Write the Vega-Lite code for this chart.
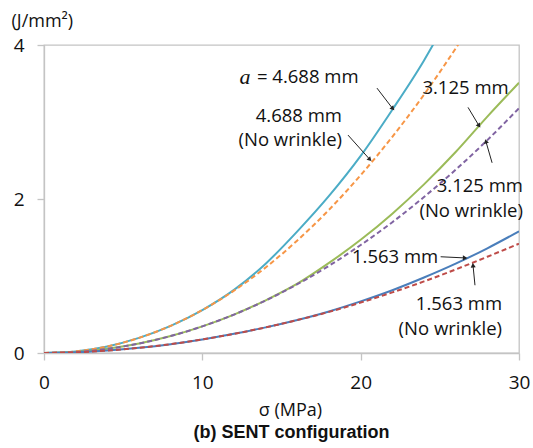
{
  "$schema": "https://vega.github.io/schema/vega-lite/v6.json",
  "autosize": "none",
  "width": 475,
  "height": 308,
  "padding": {"left": 44, "top": 45, "right": 14, "bottom": 95},
  "background": "white",
  "config": {
    "font": "Open Sans",
    "view": {"stroke": "#c4c4c4", "strokeWidth": 1.3},
    "axis": {
      "grid": false,
      "domainColor": "#c4c4c4",
      "domainWidth": 1.3,
      "tickColor": "#c4c4c4",
      "tickWidth": 1.3,
      "tickSize": 7,
      "labelFont": "Open Sans",
      "labelFontSize": 19,
      "labelColor": "#111111",
      "titleFont": "Open Sans",
      "titleFontSize": 18,
      "titleFontWeight": "normal",
      "titleColor": "#111111"
    }
  },
  "title": {
    "text": "(b) SENT configuration",
    "orient": "bottom",
    "anchor": "middle",
    "font": "Liberation Sans",
    "fontSize": 18,
    "fontWeight": "bold",
    "color": "#111111",
    "offset": 5,
    "dx": 10
  },
  "datasets": {
    "curves": [
      {"case": "a = 4.688 mm", "wrinkle": "yes", "sigma": 0, "energy": 0},
      {"case": "a = 4.688 mm", "wrinkle": "yes", "sigma": 2, "energy": 0.021},
      {"case": "a = 4.688 mm", "wrinkle": "yes", "sigma": 4, "energy": 0.085},
      {"case": "a = 4.688 mm", "wrinkle": "yes", "sigma": 6, "energy": 0.196},
      {"case": "a = 4.688 mm", "wrinkle": "yes", "sigma": 8, "energy": 0.353},
      {"case": "a = 4.688 mm", "wrinkle": "yes", "sigma": 10, "energy": 0.558},
      {"case": "a = 4.688 mm", "wrinkle": "yes", "sigma": 12, "energy": 0.82},
      {"case": "a = 4.688 mm", "wrinkle": "yes", "sigma": 14, "energy": 1.16},
      {"case": "a = 4.688 mm", "wrinkle": "yes", "sigma": 16, "energy": 1.58},
      {"case": "a = 4.688 mm", "wrinkle": "yes", "sigma": 18, "energy": 2.04},
      {"case": "a = 4.688 mm", "wrinkle": "yes", "sigma": 20, "energy": 2.56},
      {"case": "a = 4.688 mm", "wrinkle": "yes", "sigma": 22, "energy": 3.16},
      {"case": "a = 4.688 mm", "wrinkle": "yes", "sigma": 24, "energy": 3.8},
      {"case": "a = 4.688 mm", "wrinkle": "yes", "sigma": 25, "energy": 4.16},

      {"case": "4.688 mm (No wrinkle)", "wrinkle": "no", "sigma": 0, "energy": 0},
      {"case": "4.688 mm (No wrinkle)", "wrinkle": "no", "sigma": 2, "energy": 0.021},
      {"case": "4.688 mm (No wrinkle)", "wrinkle": "no", "sigma": 4, "energy": 0.085},
      {"case": "4.688 mm (No wrinkle)", "wrinkle": "no", "sigma": 6, "energy": 0.196},
      {"case": "4.688 mm (No wrinkle)", "wrinkle": "no", "sigma": 8, "energy": 0.353},
      {"case": "4.688 mm (No wrinkle)", "wrinkle": "no", "sigma": 10, "energy": 0.558},
      {"case": "4.688 mm (No wrinkle)", "wrinkle": "no", "sigma": 12, "energy": 0.81},
      {"case": "4.688 mm (No wrinkle)", "wrinkle": "no", "sigma": 14, "energy": 1.111},
      {"case": "4.688 mm (No wrinkle)", "wrinkle": "no", "sigma": 16, "energy": 1.462},
      {"case": "4.688 mm (No wrinkle)", "wrinkle": "no", "sigma": 18, "energy": 1.86},
      {"case": "4.688 mm (No wrinkle)", "wrinkle": "no", "sigma": 20, "energy": 2.31},
      {"case": "4.688 mm (No wrinkle)", "wrinkle": "no", "sigma": 22, "energy": 2.808},
      {"case": "4.688 mm (No wrinkle)", "wrinkle": "no", "sigma": 24, "energy": 3.355},
      {"case": "4.688 mm (No wrinkle)", "wrinkle": "no", "sigma": 26, "energy": 3.955},
      {"case": "4.688 mm (No wrinkle)", "wrinkle": "no", "sigma": 27, "energy": 4.272},

      {"case": "3.125 mm", "wrinkle": "yes", "sigma": 0, "energy": 0},
      {"case": "3.125 mm", "wrinkle": "yes", "sigma": 2, "energy": 0.013},
      {"case": "3.125 mm", "wrinkle": "yes", "sigma": 4, "energy": 0.054},
      {"case": "3.125 mm", "wrinkle": "yes", "sigma": 6, "energy": 0.123},
      {"case": "3.125 mm", "wrinkle": "yes", "sigma": 8, "energy": 0.22},
      {"case": "3.125 mm", "wrinkle": "yes", "sigma": 10, "energy": 0.346},
      {"case": "3.125 mm", "wrinkle": "yes", "sigma": 12, "energy": 0.499},
      {"case": "3.125 mm", "wrinkle": "yes", "sigma": 14, "energy": 0.684},
      {"case": "3.125 mm", "wrinkle": "yes", "sigma": 16, "energy": 0.9},
      {"case": "3.125 mm", "wrinkle": "yes", "sigma": 18, "energy": 1.17},
      {"case": "3.125 mm", "wrinkle": "yes", "sigma": 20, "energy": 1.47},
      {"case": "3.125 mm", "wrinkle": "yes", "sigma": 22, "energy": 1.81},
      {"case": "3.125 mm", "wrinkle": "yes", "sigma": 24, "energy": 2.19},
      {"case": "3.125 mm", "wrinkle": "yes", "sigma": 26, "energy": 2.61},
      {"case": "3.125 mm", "wrinkle": "yes", "sigma": 28, "energy": 3.07},
      {"case": "3.125 mm", "wrinkle": "yes", "sigma": 30, "energy": 3.51},

      {"case": "3.125 mm (No wrinkle)", "wrinkle": "no", "sigma": 0, "energy": 0},
      {"case": "3.125 mm (No wrinkle)", "wrinkle": "no", "sigma": 2, "energy": 0.013},
      {"case": "3.125 mm (No wrinkle)", "wrinkle": "no", "sigma": 4, "energy": 0.054},
      {"case": "3.125 mm (No wrinkle)", "wrinkle": "no", "sigma": 6, "energy": 0.123},
      {"case": "3.125 mm (No wrinkle)", "wrinkle": "no", "sigma": 8, "energy": 0.22},
      {"case": "3.125 mm (No wrinkle)", "wrinkle": "no", "sigma": 10, "energy": 0.346},
      {"case": "3.125 mm (No wrinkle)", "wrinkle": "no", "sigma": 12, "energy": 0.499},
      {"case": "3.125 mm (No wrinkle)", "wrinkle": "no", "sigma": 14, "energy": 0.682},
      {"case": "3.125 mm (No wrinkle)", "wrinkle": "no", "sigma": 16, "energy": 0.893},
      {"case": "3.125 mm (No wrinkle)", "wrinkle": "no", "sigma": 18, "energy": 1.133},
      {"case": "3.125 mm (No wrinkle)", "wrinkle": "no", "sigma": 20, "energy": 1.402},
      {"case": "3.125 mm (No wrinkle)", "wrinkle": "no", "sigma": 22, "energy": 1.699},
      {"case": "3.125 mm (No wrinkle)", "wrinkle": "no", "sigma": 24, "energy": 2.026},
      {"case": "3.125 mm (No wrinkle)", "wrinkle": "no", "sigma": 26, "energy": 2.38},
      {"case": "3.125 mm (No wrinkle)", "wrinkle": "no", "sigma": 28, "energy": 2.765},
      {"case": "3.125 mm (No wrinkle)", "wrinkle": "no", "sigma": 30, "energy": 3.178},

      {"case": "1.563 mm", "wrinkle": "yes", "sigma": 0, "energy": 0},
      {"case": "1.563 mm", "wrinkle": "yes", "sigma": 2, "energy": 0.0083},
      {"case": "1.563 mm", "wrinkle": "yes", "sigma": 4, "energy": 0.031},
      {"case": "1.563 mm", "wrinkle": "yes", "sigma": 6, "energy": 0.067},
      {"case": "1.563 mm", "wrinkle": "yes", "sigma": 8, "energy": 0.115},
      {"case": "1.563 mm", "wrinkle": "yes", "sigma": 10, "energy": 0.176},
      {"case": "1.563 mm", "wrinkle": "yes", "sigma": 12, "energy": 0.249},
      {"case": "1.563 mm", "wrinkle": "yes", "sigma": 14, "energy": 0.333},
      {"case": "1.563 mm", "wrinkle": "yes", "sigma": 16, "energy": 0.429},
      {"case": "1.563 mm", "wrinkle": "yes", "sigma": 18, "energy": 0.54},
      {"case": "1.563 mm", "wrinkle": "yes", "sigma": 20, "energy": 0.67},
      {"case": "1.563 mm", "wrinkle": "yes", "sigma": 22, "energy": 0.815},
      {"case": "1.563 mm", "wrinkle": "yes", "sigma": 24, "energy": 0.98},
      {"case": "1.563 mm", "wrinkle": "yes", "sigma": 26, "energy": 1.16},
      {"case": "1.563 mm", "wrinkle": "yes", "sigma": 28, "energy": 1.36},
      {"case": "1.563 mm", "wrinkle": "yes", "sigma": 30, "energy": 1.58},

      {"case": "1.563 mm (No wrinkle)", "wrinkle": "no", "sigma": 0, "energy": 0},
      {"case": "1.563 mm (No wrinkle)", "wrinkle": "no", "sigma": 2, "energy": 0.0083},
      {"case": "1.563 mm (No wrinkle)", "wrinkle": "no", "sigma": 4, "energy": 0.031},
      {"case": "1.563 mm (No wrinkle)", "wrinkle": "no", "sigma": 6, "energy": 0.067},
      {"case": "1.563 mm (No wrinkle)", "wrinkle": "no", "sigma": 8, "energy": 0.115},
      {"case": "1.563 mm (No wrinkle)", "wrinkle": "no", "sigma": 10, "energy": 0.176},
      {"case": "1.563 mm (No wrinkle)", "wrinkle": "no", "sigma": 12, "energy": 0.249},
      {"case": "1.563 mm (No wrinkle)", "wrinkle": "no", "sigma": 14, "energy": 0.333},
      {"case": "1.563 mm (No wrinkle)", "wrinkle": "no", "sigma": 16, "energy": 0.428},
      {"case": "1.563 mm (No wrinkle)", "wrinkle": "no", "sigma": 18, "energy": 0.534},
      {"case": "1.563 mm (No wrinkle)", "wrinkle": "no", "sigma": 20, "energy": 0.655},
      {"case": "1.563 mm (No wrinkle)", "wrinkle": "no", "sigma": 22, "energy": 0.787},
      {"case": "1.563 mm (No wrinkle)", "wrinkle": "no", "sigma": 24, "energy": 0.93},
      {"case": "1.563 mm (No wrinkle)", "wrinkle": "no", "sigma": 26, "energy": 1.085},
      {"case": "1.563 mm (No wrinkle)", "wrinkle": "no", "sigma": 28, "energy": 1.25},
      {"case": "1.563 mm (No wrinkle)", "wrinkle": "no", "sigma": 30, "energy": 1.42}
    ],
    "notesLeft": [
      {"sigma": 13.45, "energy": 3.58, "label": "= 4.688 mm"},
      {"sigma": 23.9, "energy": 3.44, "label": "3.125 mm"}
    ],
    "notesRight": [
      {"sigma": 18.82, "energy": 3.08, "label": "4.688 mm"},
      {"sigma": 18.82, "energy": 2.76, "label": "(No wrinkle)"},
      {"sigma": 30.25, "energy": 2.17, "label": "3.125 mm"},
      {"sigma": 30.25, "energy": 1.85, "label": "(No wrinkle)"},
      {"sigma": 24.9, "energy": 1.247, "label": "1.563 mm"},
      {"sigma": 28.93, "energy": 0.63, "label": "1.563 mm"},
      {"sigma": 28.93, "energy": 0.31, "label": "(No wrinkle)"}
    ],
    "arrows": [
      {"id": 1, "sigma0": 21.03, "e0": 3.44, "sigma1": 22.0, "e1": 3.18},
      {"id": 2, "sigma0": 19.2, "e0": 2.83, "sigma1": 20.55, "e1": 2.52},
      {"id": 3, "sigma0": 26.78, "e0": 3.19, "sigma1": 27.45, "e1": 2.96},
      {"id": 4, "sigma0": 28.3, "e0": 2.47, "sigma1": 27.92, "e1": 2.74},
      {"id": 5, "sigma0": 25.05, "e0": 1.25, "sigma1": 26.55, "e1": 1.235},
      {"id": 6, "sigma0": 27.22, "e0": 0.88, "sigma1": 27.1, "e1": 1.13}
    ]
  },
  "encoding": {
    "x": {
      "field": "sigma",
      "type": "quantitative",
      "scale": {"domain": [0, 30], "nice": false, "zero": false},
      "axis": {
        "values": [0, 10, 20, 30],
        "title": "σ (MPa)",
        "labelPadding": 13,
        "labelFlush": false,
        "labelOverlap": false,
        "labelBound": false,
        "titleX": 246,
        "titleY": 62,
        "titleBaseline": "alphabetic",
        "titleAnchor": "middle"
      }
    },
    "y": {
      "field": "energy",
      "type": "quantitative",
      "scale": {"domain": [0, 4], "nice": false},
      "axis": {
        "values": [0, 2, 4],
        "title": "(J/mm²)",
        "labelPadding": 13,
        "labelFlush": false,
        "labelOverlap": false,
        "titleAngle": 0,
        "titleAlign": "left",
        "titleBaseline": "middle",
        "titleX": -33,
        "titleY": -24
      }
    }
  },
  "layer": [
    {
      "data": {"name": "curves"},
      "transform": [{"filter": "datum.wrinkle === 'yes'"}],
      "mark": {"type": "line", "strokeWidth": 2, "clip": true, "interpolate": "monotone"},
      "encoding": {
        "color": {
          "field": "case",
          "type": "nominal",
          "legend": null,
          "scale": {
            "domain": ["a = 4.688 mm", "4.688 mm (No wrinkle)", "3.125 mm", "3.125 mm (No wrinkle)", "1.563 mm", "1.563 mm (No wrinkle)"],
            "range": ["#4BACC6", "#F79646", "#9BBB59", "#8064A2", "#4A7EBB", "#BE4B48"]
          }
        }
      }
    },
    {
      "data": {"name": "curves"},
      "transform": [{"filter": "datum.wrinkle === 'no'"}],
      "mark": {"type": "line", "strokeWidth": 2, "strokeDash": [5, 3], "clip": true, "interpolate": "monotone"},
      "encoding": {
        "color": {"field": "case", "type": "nominal", "legend": null}
      }
    },
    {
      "data": {"name": "arrows"},
      "mark": {"type": "rule", "color": "#222222", "strokeWidth": 1},
      "encoding": {
        "x": {"field": "sigma0", "type": "quantitative"},
        "y": {"field": "e0", "type": "quantitative"},
        "x2": {"field": "sigma1"},
        "y2": {"field": "e1"}
      }
    },
    {
      "data": {"name": "arrows"},
      "transform": [{"filter": "datum.id === 1"}],
      "mark": {"type": "point", "shape": "triangle", "filled": true, "color": "#222222", "size": 26, "angle": 137, "opacity": 1},
      "encoding": {"x": {"field": "sigma1", "type": "quantitative"}, "y": {"field": "e1", "type": "quantitative"}}
    },
    {
      "data": {"name": "arrows"},
      "transform": [{"filter": "datum.id === 2"}],
      "mark": {"type": "point", "shape": "triangle", "filled": true, "color": "#222222", "size": 26, "angle": 136, "opacity": 1},
      "encoding": {"x": {"field": "sigma1", "type": "quantitative"}, "y": {"field": "e1", "type": "quantitative"}}
    },
    {
      "data": {"name": "arrows"},
      "transform": [{"filter": "datum.id === 3"}],
      "mark": {"type": "point", "shape": "triangle", "filled": true, "color": "#222222", "size": 26, "angle": 144, "opacity": 1},
      "encoding": {"x": {"field": "sigma1", "type": "quantitative"}, "y": {"field": "e1", "type": "quantitative"}}
    },
    {
      "data": {"name": "arrows"},
      "transform": [{"filter": "datum.id === 4"}],
      "mark": {"type": "point", "shape": "triangle", "filled": true, "color": "#222222", "size": 26, "angle": -15, "opacity": 1},
      "encoding": {"x": {"field": "sigma1", "type": "quantitative"}, "y": {"field": "e1", "type": "quantitative"}}
    },
    {
      "data": {"name": "arrows"},
      "transform": [{"filter": "datum.id === 5"}],
      "mark": {"type": "point", "shape": "triangle", "filled": true, "color": "#222222", "size": 26, "angle": 90, "opacity": 1},
      "encoding": {"x": {"field": "sigma1", "type": "quantitative"}, "y": {"field": "e1", "type": "quantitative"}}
    },
    {
      "data": {"name": "arrows"},
      "transform": [{"filter": "datum.id === 6"}],
      "mark": {"type": "point", "shape": "triangle", "filled": true, "color": "#222222", "size": 26, "angle": -6, "opacity": 1},
      "encoding": {"x": {"field": "sigma1", "type": "quantitative"}, "y": {"field": "e1", "type": "quantitative"}}
    },
    {
      "data": {"values": [{"sigma": 12.35, "energy": 3.58, "label": "a"}]},
      "mark": {"type": "text", "align": "left", "baseline": "middle", "font": "Liberation Serif", "fontStyle": "italic", "fontSize": 22, "color": "#111111"},
      "encoding": {"text": {"field": "label"}}
    },
    {
      "data": {"name": "notesLeft"},
      "mark": {"type": "text", "align": "left", "baseline": "middle", "fontSize": 18.5, "color": "#111111"},
      "encoding": {"text": {"field": "label"}}
    },
    {
      "data": {"name": "notesRight"},
      "mark": {"type": "text", "align": "right", "baseline": "middle", "fontSize": 18.5, "color": "#111111"},
      "encoding": {"text": {"field": "label"}}
    }
  ]
}
